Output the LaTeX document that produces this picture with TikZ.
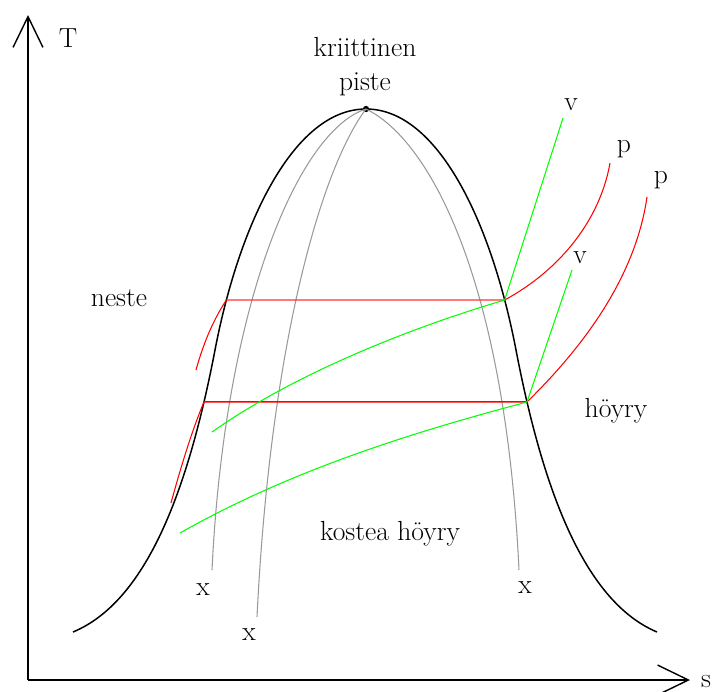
\documentclass[tikz,border=0pt]{standalone}
\usetikzlibrary{arrows.meta,intersections}

\begin{document}
\begin{tikzpicture}[x=0.02cm, y=-0.02cm,
  every node/.style={font=\fontsize{15.7}{19}\selectfont, inner sep=0pt, anchor=base},
  ax/.style={line width=0.8pt, -{Straight Barb[length=17.5pt, width=17pt]}},
  dome/.style={line width=0.85pt, black},
  qline/.style={line width=0.6pt, black!40},
  pline/.style={line width=0.6pt, red},
  vline/.style={line width=0.6pt, green}]

\useasboundingbox (0,0) rectangle (717,691);

% ---------------- axes ----------------
\coordinate (o) at (28,680);
\coordinate (ty) at (28,15);
\coordinate (sx) at (690,680);
\draw[ax] (o) -- (ty);
\draw[ax] (o) -- (sx);
\node (lT) at (68,47) {T};
\node (ls) at (706,687) {s};

% ---------------- saturation dome ----------------
\coordinate (crit) at (366,109);
\draw[dome, name path=dome] (73,632) .. controls (150,600) and (190,480) .. (215,350)
  .. controls (240,220) and (295,109) .. (crit)
  .. controls (437,109) and (491,220) .. (516,350)
  .. controls (541,480) and (581,600) .. (657,632);
\fill (crit) circle (1.8pt);
\node (kp1) at (365,56) {kriittinen};
\node (kp2) at (365,90) {piste};

% points where the two isobars meet the dome
\path[name path=lev1] (60,300) -- (700,300);
\path[name path=lev2] (60,402) -- (700,402);
\path[name intersections={of=dome and lev1, sort by=lev1}];
\coordinate (a1) at (intersection-1);
\coordinate (b1) at (intersection-2);
\path[name intersections={of=dome and lev2, sort by=lev2}];
\coordinate (a2) at (intersection-1);
\coordinate (b2) at (intersection-2);

% ---------------- quality lines ----------------
\draw[qline] (crit) .. controls (300,130) and (225,300) .. (212,570);
\draw[qline] (crit) .. controls (320,170) and (270,350) .. (257,617);
\draw[qline] (crit) .. controls (430,140) and (505,280) .. (519,570);
\node (x1) at (203,595) {x};
\node (x2) at (249,640) {x};
\node (x3) at (525,593) {x};

% ---------------- isobars ----------------
\draw[pline, red!80] (a1) -- (b1);
\draw[pline] (196,370) .. controls (203,345) and (212,322) .. (a1);
\draw[pline] (b1) .. controls (560,270) and (600,220) .. (610,163);
\draw[pline, line width=0.85pt] (a2) -- (b2);
\draw[pline] (171,503) .. controls (180,470) and (192,430) .. (a2);
\draw[pline] (b2) .. controls (580,350) and (635,280) .. (647,197);
\node (p1) at (624,152) {p};
\node (p2) at (661,183) {p};

% ---------------- isochores ----------------
\draw[vline] (b1) -- (563,118);
\draw[vline] (b1) .. controls (420,325) and (300,370) .. (212,432);
\draw[vline] (b2) -- (572,270);
\draw[vline] (b2) .. controls (430,428) and (300,465) .. (180,533);
\node (v1) at (571,110) {v};
\node (v2) at (580,263) {v};

% ---------------- region labels ----------------
\node (neste) at (119,306) {neste};
\node (hoyry) at (616,417) {höyry};
\node (kostea) at (390,540) {kostea höyry};
\end{tikzpicture}
\end{document}
